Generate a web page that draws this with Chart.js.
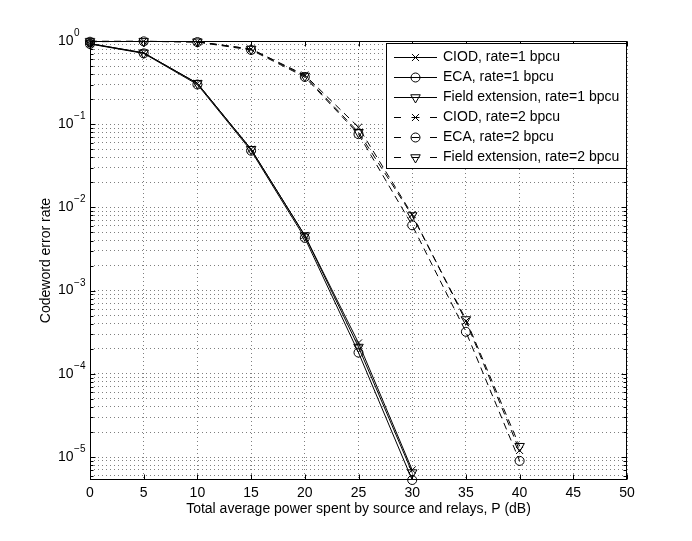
<!DOCTYPE html>
<html>
<head>
<meta charset="utf-8">
<script src="https://cdn.jsdelivr.net/npm/chart.js@4.4.1/dist/chart.umd.min.js"></script>
<style>
  html, body { margin: 0; padding: 0; background: #fff; }
  #wrap { width: 692px; height: 541px; }
</style>
</head>
<body>
<div id="wrap"><canvas id="myChart" width="692" height="541"></canvas></div>
<script>
// total power P (dB)
const powerRate1 = [0, 5, 10, 15, 20, 25, 30];
const powerRate2 = [0, 5, 10, 15, 20, 25, 30, 35, 40];

// codeword error rate
const ciodRate1 = [0.93, 0.72, 0.31, 0.050, 0.0046, 2.35e-4, 7.0e-6];
const ecaRate1  = [0.92, 0.71, 0.30, 0.048, 0.0043, 1.8e-4, 5.3e-6];
const fextRate1 = [0.93, 0.72, 0.31, 0.050, 0.0046, 2.1e-4, 6.5e-6];

const ciodRate2 = [0.99, 0.99, 0.98, 0.80, 0.39, 0.092, 0.0082, 4.3e-4, 1.2e-5];
const ecaRate2  = [0.98, 0.99, 0.97, 0.78, 0.37, 0.076, 0.0061, 3.2e-4, 9.0e-6];
const fextRate2 = [0.99, 0.99, 0.98, 0.80, 0.38, 0.080, 0.0080, 4.5e-4, 1.35e-5];

const xTicks = [0, 5, 10, 15, 20, 25, 30, 35, 40, 45, 50];
const yDecades = [-6, -5, -4, -3, -2, -1, 0];
const ySteps = [1, 2, 3, 4, 5, 6, 7, 8, 9];
const yMin = 5.3e-6;
const yMax = 1;

const FONT = "'Liberation Sans', Arial, Helvetica, sans-serif";
const GRID = 'rgba(0,0,0,0.5)';

// log grid: 1..9 x 10^e inside the range
const yTicks = [];
yDecades.forEach(e => {
  ySteps.forEach(m => {
    const v = m * Math.pow(10, e);
    if (v >= yMin * 0.999 && v <= yMax * 1.0001) yTicks.push({ value: v, major: m === 1, exp: e });
  });
});

const pts = (xs, ys) => xs.map((x, i) => ({ x: x, y: ys[i] }));

function series(label, xs, ys, style, radius, dashed) {
  return {
    label: label,
    data: pts(xs, ys),
    borderColor: '#000',
    borderWidth: 1,
    borderDash: dashed ? [7, 5] : [],
    pointStyle: style,
    pointRotation: style === 'triangle' ? 180 : 0,
    pointRadius: radius,
    pointBorderWidth: 1,
    pointBorderColor: '#000',
    pointBackgroundColor: 'rgba(0,0,0,0)',
    tension: 0,
    fill: false,
    clip: false
  };
}

const datasets = [
  series('CIOD, rate=1 bpcu', powerRate1, ciodRate1, 'crossRot', 5, false),
  series('ECA, rate=1 bpcu', powerRate1, ecaRate1, 'circle', 4.5, false),
  series('Field extension, rate=1 bpcu', powerRate1, fextRate1, 'triangle', 5.5, false),
  series('CIOD, rate=2 bpcu', powerRate2, ciodRate2, 'crossRot', 5, true),
  series('ECA, rate=2 bpcu', powerRate2, ecaRate2, 'circle', 4.5, true),
  series('Field extension, rate=2 bpcu', powerRate2, fextRate2, 'triangle', 5.5, true)
];

// box, inward ticks, 10^n labels and the legend, MATLAB style
const matlabFrame = {
  id: 'matlabFrame',
  afterDatasetsDraw(chart) {
    const { ctx, chartArea: a, scales } = chart;
    const L = Math.round(a.left) + 0.5, R = Math.round(a.right) - 0.5;
    const T = Math.round(a.top) + 0.5, B = Math.round(a.bottom) - 0.5;
    ctx.save();
    ctx.strokeStyle = '#000';
    ctx.lineWidth = 1;
    ctx.setLineDash([]);
    ctx.strokeRect(L, T, R - L, B - T);

    ctx.beginPath();
    xTicks.forEach(v => {
      const px = Math.round(scales.x.getPixelForValue(v)) + 0.5;
      ctx.moveTo(px, B); ctx.lineTo(px, B - 5);
      ctx.moveTo(px, T); ctx.lineTo(px, T + 5);
    });
    yTicks.forEach(t => {
      const py = Math.round(scales.y.getPixelForValue(t.value)) + 0.5;
      const len = t.major ? 5 : 3;
      ctx.moveTo(L, py); ctx.lineTo(L + len, py);
      ctx.moveTo(R, py); ctx.lineTo(R - len, py);
    });
    ctx.stroke();

    // y labels 10^n
    ctx.fillStyle = '#000';
    yTicks.filter(t => t.major).forEach(t => {
      const py = scales.y.getPixelForValue(t.value);
      ctx.font = '14px ' + FONT;
      ctx.textAlign = 'left';
      ctx.textBaseline = 'middle';
      ctx.fillText('10', 58, py);
      const w = ctx.measureText('10').width;
      ctx.font = '10px ' + FONT;
      ctx.textBaseline = 'alphabetic';
      const ex = t.exp < 0 ? '\u2212' + Math.abs(t.exp) : String(t.exp);
      ctx.fillText(ex, 58 + w + 0.5, py - 5);
    });

    // legend
    const bx = 386.5, by = 43.5, bw = 240, bh = 125;
    ctx.fillStyle = '#fff';
    ctx.fillRect(bx, by, bw, bh);
    ctx.strokeStyle = '#000';
    ctx.strokeRect(bx, by, bw, bh);
    chart.data.datasets.forEach((ds, i) => {
      const cy = 57.5 + i * 20;
      const x0 = 394, x1 = 437, mx = 415.5;
      ctx.strokeStyle = '#000';
      ctx.lineWidth = 1;
      ctx.beginPath();
      if (ds.borderDash.length) {
        ctx.moveTo(x0, cy); ctx.lineTo(x0 + 7, cy);
        ctx.moveTo(mx - 4, cy); ctx.lineTo(mx + 4, cy);
        ctx.moveTo(x1 - 7, cy); ctx.lineTo(x1, cy);
      } else {
        ctx.moveTo(x0, cy); ctx.lineTo(x1, cy);
      }
      ctx.stroke();
      ctx.fillStyle = 'rgba(0,0,0,0)';
      Chart.helpers.drawPoint(ctx, {
        pointStyle: ds.pointStyle,
        rotation: ds.pointRotation,
        radius: ds.pointRadius,
        borderWidth: 1
      }, mx, cy);
      ctx.fillStyle = '#000';
      ctx.font = '14px ' + FONT;
      ctx.textAlign = 'left';
      ctx.textBaseline = 'middle';
      ctx.fillText(ds.label, 443, cy);
    });
    ctx.restore();
  }
};

Chart.defaults.font.family = FONT;
Chart.defaults.color = '#000';

const ctx = document.getElementById('myChart').getContext('2d');
new Chart(ctx, {
  type: 'line',
  data: { datasets: datasets },
  options: {
    responsive: false,
    animation: false,
    layout: { padding: { left: 0, top: 41, right: 65, bottom: 0 } },
    plugins: { legend: { display: false }, tooltip: { enabled: false } },
    scales: {
      x: {
        type: 'linear',
        min: 0,
        max: 50,
        afterBuildTicks: s => { s.ticks = xTicks.map(v => ({ value: v })); },
        afterFit: s => { s.height = 61; },
        ticks: { autoSkip: false, maxRotation: 0, padding: 5, font: { size: 14 }, color: '#000' },
        grid: { color: GRID, drawTicks: false },
        border: { display: false, dash: [1, 3] },
        title: {
          display: true,
          text: 'Total average power spent by source and relays, P (dB)',
          font: { size: 14 },
          color: '#000',
          padding: { top: 0, bottom: 23 }
        }
      },
      y: {
        type: 'logarithmic',
        min: yMin,
        max: yMax,
        afterBuildTicks: s => { s.ticks = yTicks.map(t => ({ value: t.value })); },
        afterFit: s => { s.width = 90; },
        ticks: { display: false, autoSkip: false },
        grid: { color: GRID, drawTicks: false },
        border: { display: false, dash: [1, 3] },
        title: {
          display: true,
          text: 'Codeword error rate',
          font: { size: 14 },
          color: '#000',
          padding: { top: 38, bottom: 0 }
        }
      }
    }
  },
  plugins: [matlabFrame]
});
</script>
</body>
</html>
